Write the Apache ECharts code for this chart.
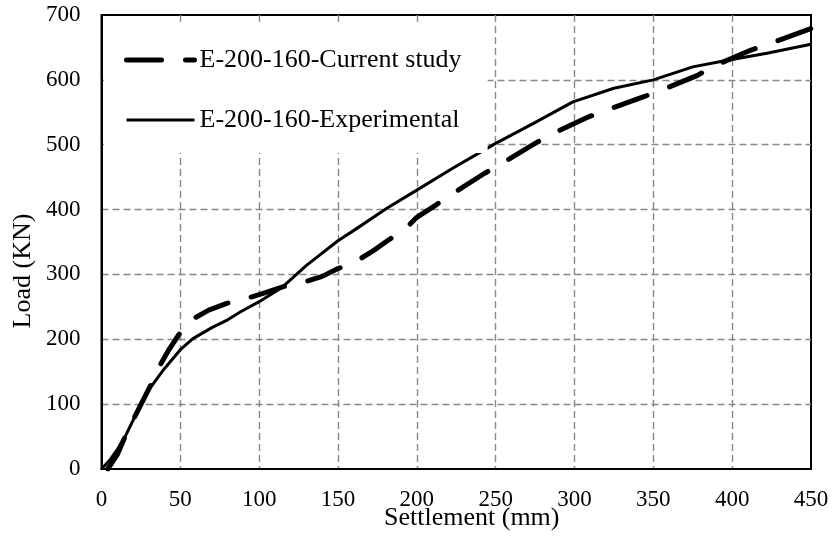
<!DOCTYPE html>
<html><head><meta charset="utf-8">
<script src="https://cdn.jsdelivr.net/npm/echarts@6/dist/echarts.min.js"></script>
<style>html,body{margin:0;padding:0;background:#fff}#c{width:832px;height:536px}</style>
</head><body><div id="c"></div>
<script>
// Current study (dashed)
const studyName = 'E-200-160-Current study';
const studyX = [4, 10, 15, 22, 31, 36, 43, 49, 57, 68, 79, 92, 104, 115, 127, 140, 150, 162, 172, 182, 193, 200, 212, 223, 243, 254, 275, 287, 309, 320, 344, 355, 378, 390, 412, 424, 450];
const studyY = [0, 22, 50, 85, 128, 155, 185, 207, 230, 245, 255, 263, 272, 281, 287, 297, 309, 321, 336, 353, 371, 388, 407, 425, 456, 471, 502, 518, 543, 553, 574, 584, 607, 623, 646, 656, 679];
// Experimental (solid)
const expName = 'E-200-160-Experimental';
const expX = [0, 5, 10, 15, 22, 29, 40, 50, 58, 70, 80, 88, 100, 114, 130, 150, 162, 181, 200, 223, 250, 274, 299, 325, 350, 375, 392, 422, 450];
const expY = [0, 13, 30, 50, 85, 119, 155, 184, 201, 218, 230, 242, 258, 279, 314, 352, 371, 402, 430, 464, 502, 533, 566, 587, 600, 620, 628, 641, 655];
// Axes
const xMin = 0, xMax = 450, xStep = 50;
const yMin = 0, yMax = 700, yStep = 100;
const xTitle = 'Settlement (mm)';
const yTitle = 'Load (KN)';

const font = 'Liberation Serif, Times New Roman, serif';
const pairs = (xs, ys) => xs.map((x, i) => [x, ys[i]]);

const chart = echarts.init(document.getElementById('c'), null, {renderer: 'canvas'});
const gridLine = {show: true, showMinLine: false, showMaxLine: false, lineStyle: {color: '#888', width: 1.4, type: [7, 4]}};
const hiddenSymbol = {color: 'rgba(0,0,0,0)', borderWidth: 0, opacity: 0};
chart.setOption({
  animation: false,
  backgroundColor: '#fff',
  grid: {left: 101.5, right: 21, top: 15, bottom: 67, containLabel: false, outerBoundsMode: 'none', show: true, borderColor: '#000', borderWidth: 2, backgroundColor: 'transparent'},
  legend: {
    orient: 'vertical', left: 104, top: 22,
    padding: [25, 26, 20, 20],
    itemWidth: 68, itemHeight: 20, itemGap: 34,
    backgroundColor: '#fff',
    textStyle: {fontFamily: font, fontSize: 26, color: '#000'},
    data: [
      {name: studyName, lineStyle: {width: 5}, itemStyle: hiddenSymbol},
      {name: expName, lineStyle: {width: 3}, itemStyle: hiddenSymbol}
    ]
  },
  xAxis: {
    type: 'value', min: xMin, max: xMax, interval: xStep,
    name: xTitle, nameLocation: 'middle', nameGap: 36, nameMoveOverlap: false,
    nameTextStyle: {fontFamily: font, fontSize: 26, color: '#000', padding: [0, 0, 0, 31]},
    axisLine: {show: true, lineStyle: {color: '#000', width: 2}},
    axisTick: {show: false},
    axisLabel: {fontFamily: font, fontSize: 23, color: '#000', margin: 19},
    splitLine: gridLine
  },
  yAxis: {
    type: 'value', min: yMin, max: yMax, interval: yStep,
    name: yTitle, nameLocation: 'middle', nameGap: 65, nameMoveOverlap: false,
    nameTextStyle: {fontFamily: font, fontSize: 26, color: '#000', padding: [0, 58, 0, 0]},
    axisLine: {show: true, lineStyle: {color: '#000', width: 2}},
    axisTick: {show: false},
    axisLabel: {fontFamily: font, fontSize: 23, color: '#000', margin: 21},
    splitLine: gridLine
  },
  series: [
    {
      name: studyName, type: 'line', data: pairs(studyX, studyY),
      symbol: 'none', smooth: false,
      lineStyle: {color: '#000', width: 5, type: [35, 24], cap: 'round', join: 'round'},
      itemStyle: {color: '#000'}
    },
    {
      name: expName, type: 'line', data: pairs(expX, expY),
      symbol: 'none', smooth: false,
      lineStyle: {color: '#000', width: 3, type: 'solid', join: 'round'},
      itemStyle: {color: '#000'}
    }
  ]
});
</script>
</body></html>
